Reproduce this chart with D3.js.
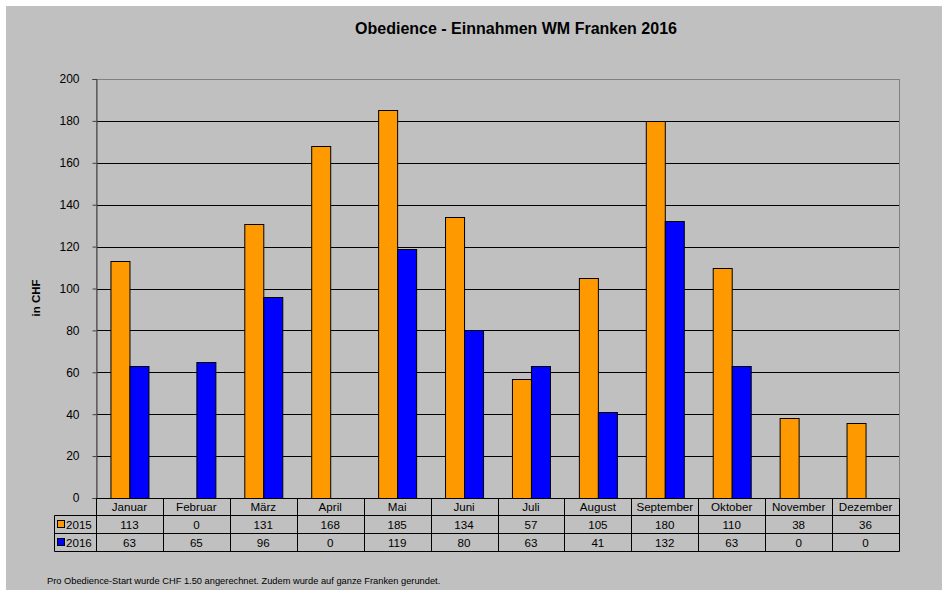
<!DOCTYPE html>
<html>
<head>
<meta charset="utf-8">
<script src="https://cdn.jsdelivr.net/npm/d3@7"></script>
<style>
  html, body { margin: 0; padding: 0; background: #fff; }
  svg { display: block; font-family: "Liberation Sans", Arial, sans-serif; }
</style>
</head>
<body>
<div id="chart"></div>
<script>
// Monthly income, Obedience, WM Franken
const months = ["Januar", "Februar", "März", "April", "Mai", "Juni", "Juli", "August", "September", "Oktober", "November", "Dezember"]
const years = ["2015", "2016"]
const values2015 = [113, 0, 131, 168, 185, 134, 57, 105, 180, 110, 38, 36]
const values2016 = [63, 65, 96, 0, 119, 80, 63, 41, 132, 63, 0, 0]
const yTicks = [0, 20, 40, 60, 80, 100, 120, 140, 160, 180, 200]

const W = 942, H = 590
const plot = { left: 96, right: 899, top: 79, bottom: 498 }
const rowH = [17, 18, 18]
const colors = { "2015": "#FF9900", "2016": "#0000FF" }
const series = [values2015, values2016]

const svg = d3.select("#chart").append("svg")
  .attr("width", W).attr("height", H)

// background
svg.append("rect").attr("x", 6).attr("y", 6).attr("width", W - 6).attr("height", H - 6)
  .attr("fill", "#C0C0C0")

const x = d3.scaleBand().domain(months).range([plot.left, plot.right]).paddingInner(0).paddingOuter(0)
const barW = 19
const y = d3.scaleLinear().domain([0, 200]).range([plot.bottom, plot.top])

// gridlines
svg.append("g").selectAll("line")
  .data(yTicks.filter(d => d > 0 && d < 200))
  .join("line")
  .attr("x1", plot.left).attr("x2", plot.right)
  .attr("y1", d => Math.round(y(d)) + 0.5).attr("y2", d => Math.round(y(d)) + 0.5)
  .attr("stroke", "#000").attr("stroke-width", 1)

// plot frame
svg.append("rect")
  .attr("x", plot.left + 0.5).attr("y", plot.top + 0.5)
  .attr("width", plot.right - plot.left).attr("height", plot.bottom - plot.top)
  .attr("fill", "none").attr("stroke", "#808080")

// bars
const groups = svg.append("g").selectAll("g")
  .data(months)
  .join("g")
  .attr("transform", d => `translate(${x(d) + x.bandwidth() / 2 - barW},0)`)

groups.selectAll("rect")
  .data((m, i) => series.map((s, j) => ({ j, v: s[i] })).filter(d => d.v > 0))
  .join("rect")
  .attr("x", d => d.j * barW + 0.5)
  .attr("y", d => Math.round(y(d.v)) + 0.5)
  .attr("width", barW)
  .attr("height", d => plot.bottom - Math.round(y(d.v)))
  .attr("fill", d => colors[years[d.j]])
  .attr("stroke", "#000").attr("stroke-width", 1)

// y axis
const yAxis = svg.append("g")
  .attr("transform", `translate(${plot.left + 0.5},0)`)
  .call(d3.axisLeft(y).tickValues(yTicks).tickSize(4).tickPadding(13))
yAxis.select(".domain").attr("stroke", "#404040")
yAxis.selectAll(".tick line").attr("stroke", "#404040")
yAxis.selectAll(".tick text").attr("font-size", 12).attr("fill", "#000")
  .attr("font-family", "Liberation Sans, Arial, sans-serif")

// data table
const tTop = plot.bottom + 0.5
const r1 = tTop + rowH[0], r2 = r1 + rowH[1], r3 = r2 + rowH[2]
const legendLeft = 54.5
const table = svg.append("g").attr("stroke", "#000").attr("stroke-width", 1)

table.append("line").attr("x1", plot.left + 0.5).attr("x2", plot.right + 0.5).attr("y1", tTop).attr("y2", tTop)
table.append("line").attr("x1", legendLeft).attr("x2", plot.right + 0.5).attr("y1", r1).attr("y2", r1)
table.append("line").attr("x1", legendLeft).attr("x2", plot.right + 0.5).attr("y1", r2).attr("y2", r2)
table.append("line").attr("x1", legendLeft).attr("x2", plot.right + 0.5).attr("y1", r3).attr("y2", r3)
table.append("line").attr("x1", legendLeft).attr("x2", legendLeft).attr("y1", r1).attr("y2", r3)
table.selectAll(".vline")
  .data(months.map(m => Math.round(x(m)) + 0.5).concat([plot.right + 0.5]))
  .join("line")
  .attr("class", "vline")
  .attr("x1", d => d).attr("x2", d => d)
  .attr("y1", tTop).attr("y2", r3)

const txt = svg.append("g").attr("font-size", 11.6).attr("fill", "#000").attr("text-anchor", "middle")
txt.selectAll(".cat")
  .data(months)
  .join("text")
  .attr("x", d => x(d) + x.bandwidth() / 2)
  .attr("y", tTop + 12.5)
  .text(d => d)

series.forEach((s, j) => {
  const rowY = (j === 0 ? r1 : r2) + 13
  txt.append("g").selectAll("text")
    .data(s)
    .join("text")
    .attr("x", (d, i) => x(months[i]) + x.bandwidth() / 2)
    .attr("y", rowY)
    .text(d => d)

  // legend key
  svg.append("rect")
    .attr("x", 57.5).attr("y", (j === 0 ? r1 : r2) + 5)
    .attr("width", 7).attr("height", 7)
    .attr("fill", colors[years[j]]).attr("stroke", "#000")
  svg.append("text")
    .attr("x", 66).attr("y", rowY)
    .attr("font-size", 11.6)
    .text(years[j])
})

// title
svg.append("text")
  .attr("x", 516).attr("y", 34)
  .attr("text-anchor", "middle")
  .attr("font-size", 16).attr("font-weight", "bold")
  .text("Obedience - Einnahmen WM Franken 2016")

// y label
svg.append("text")
  .attr("transform", "translate(40,298) rotate(-90)")
  .attr("text-anchor", "middle")
  .attr("font-size", 11.5).attr("font-weight", "bold")
  .text("in CHF")

// footnote
svg.append("text")
  .attr("x", 47).attr("y", 584)
  .attr("font-size", 9.3)
  .text("Pro Obedience-Start wurde CHF 1.50 angerechnet. Zudem wurde auf ganze Franken gerundet.")
</script>
</body>
</html>
